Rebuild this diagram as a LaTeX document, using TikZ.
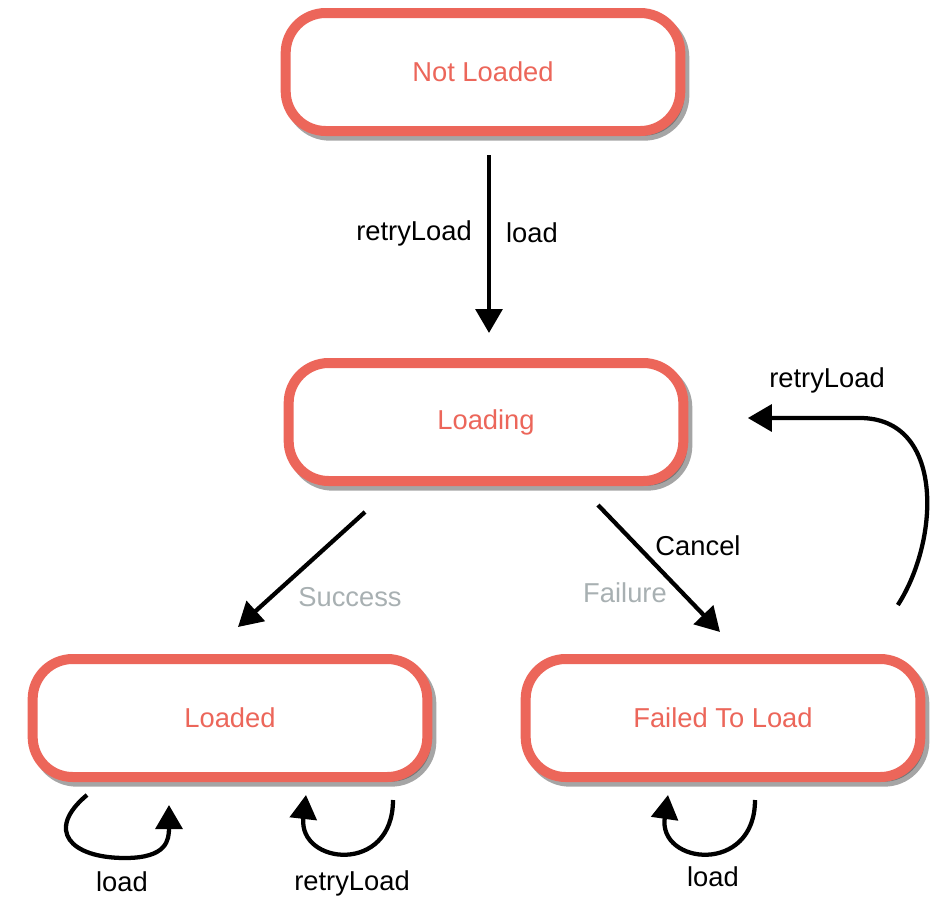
\documentclass[tikz,border=0pt]{standalone}
\usepackage{fontspec}
\setmainfont{Liberation Sans}
\usetikzlibrary{arrows.meta,shadows}

\definecolor{statered}{HTML}{EC665A}
\definecolor{labelgray}{HTML}{A8B0B2}

\tikzset{
  state/.style={draw=statered, line width=7.5pt, rounded corners=30pt, fill=white,
    minimum width=296pt, minimum height=88.5pt, text=statered,
    font=\fontsize{20.5}{24}\selectfont,
    drop shadow={shadow xshift=3pt, shadow yshift=-3.5pt, opacity=0.5, fill=black!70, draw=black!70}},
  flow/.style={line width=3.2pt, -{Triangle[width=20pt,length=18pt]}},
  lbl/.style={font=\fontsize{20.5}{24}\selectfont, inner sep=0pt},
}

\begin{document}
\begin{tikzpicture}[x=0.75pt,y=0.75pt,yscale=-1,xscale=1]
\useasboundingbox (0,0) rectangle (940,900);

%States
\node[state] (notloaded) at (483,72) {Not Loaded};
\node[state] (loading) at (486,422) {Loading};
\node[state] (loaded) at (230,718) {Loaded};
\node[state] (failed) at (723,718) {Failed To Load};

%Transitions
\draw[flow] ([shift={(6,19)}]notloaded.south) -- ([shift={(3,-25)}]loading.north);
\draw[flow] ([shift={(-121,26)}]loading.south) -- ([shift={(8,-27)}]loaded.north);
\draw[flow] ([shift={(112,19)}]loading.south) -- ([shift={(-3,-22)}]failed.north);
\draw[flow] ([shift={(-27.5,-49)}]failed.north east) .. controls +(42,-65) and +(85,0) .. ++(-38,-187) -- ([shift={(59.5,-4)}]loading.east);

%Self loops
\draw[flow] ([shift={(-143,13)}]loaded.south) .. controls +(-42,35) and +(-55,0) .. ++(38,63) .. controls +(42,0) and +(0,35) .. ([shift={(-61,23)}]loaded.south);
\draw[flow] ([shift={(163,18)}]loaded.south) .. controls +(0,75) and +(-8,70) .. ([shift={(76,13)}]loaded.south);
\draw[flow] ([shift={(32,18)}]failed.south) .. controls +(0,75) and +(-10,70) .. ([shift={(-55,13)}]failed.south);

% Text Node
\node[lbl] (retryload1) at (414,233) {retryLoad};
\node[lbl] (load1) at (532,233) {load};
\node[lbl, text=labelgray] (success) at (350,597) {Success};
\node[lbl, text=labelgray] (failure) at (625,593) {Failure};
\node[lbl] (cancel) at (698,546) {Cancel};
\node[lbl] (retryload2) at (827,380) {retryLoad};
\node[lbl] (load2) at (122,882) {load};
\node[lbl] (retryload3) at (352,883) {retryLoad};
\node[lbl] (load3) at (713,877) {load};

\end{tikzpicture}
\end{document}
